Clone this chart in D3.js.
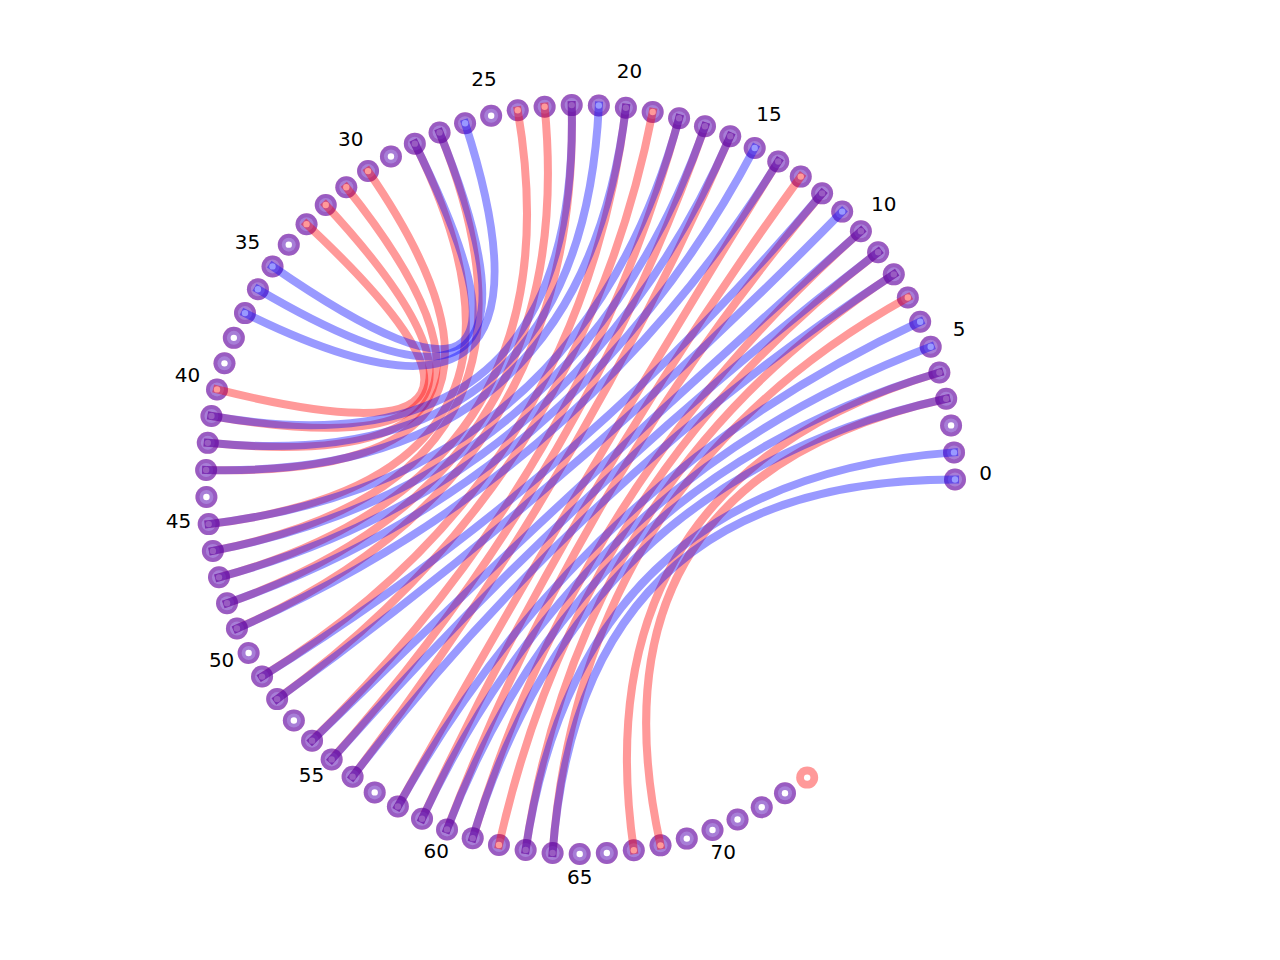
<!DOCTYPE html>
<html>
<head>
<meta charset="utf-8">
<script src="https://cdn.jsdelivr.net/npm/d3@7"></script>
<style>
  html, body { margin: 0; padding: 0; background: #fff; }
  text { font-family: "DejaVu Sans", sans-serif; }
</style>
</head>
<body>
<svg id="chart" width="1280" height="960"></svg>
<script>
// nodes of each structure (red has one more at the end)
var redNodeCount = 75;
var blueNodeCount = 74;

// base pairs, [i, j]
var redPairs = [[3,68],[4,67],[7,64],[8,63],[9,62],[10,61],[12,60],[13,59],[14,58],
    [16,56],[17,55],[18,54],[19,52],[20,51],[22,49],[23,48],[24,47],[27,46],[28,45],
    [30,43],[31,42],[32,41],[33,40]];
var bluePairs = [[0,64],[1,63],[3,61],[4,60],[5,59],[6,58],[8,56],[9,55],[10,54],
    [11,52],[12,51],[14,49],[15,48],[16,47],[17,46],[18,45],[20,43],[21,42],[22,41],
    [26,37],[27,36],[28,35]];

var tickLabels = [0, 5, 10, 15, 20, 25, 30, 35, 40, 45, 50, 55, 60, 65, 70];

var cx = 580.5, cy = 479.5, radius = 374.5, labelRadius = 405;
var step = 4.152 * Math.PI / 180;

var angle = d3.scaleLinear().domain([0, 1]).range([0, step]);

function pos(i, r) {
    // angle counter-clockwise from 3 o'clock
    return d3.pointRadial(Math.PI / 2 - angle(i), r === undefined ? radius : r);
}

function chord(p) {
    var a = pos(p[0]), b = pos(p[1]);
    var path = d3.path();
    path.moveTo(a[0], a[1]);
    path.quadraticCurveTo(0, 0, b[0], b[1]);
    return path.toString();
}

var svg = d3.select('#chart');
var g = svg.append('g').attr('transform', 'translate(' + cx + ',' + cy + ')');

var redNodes = d3.range(redNodeCount);
var blueNodes = d3.range(blueNodeCount);

g.append('g').selectAll('circle')
    .data(redNodes).enter()
    .append('circle')
    .attr('cx', function(d){ return pos(d)[0]; })
    .attr('cy', function(d){ return pos(d)[1]; })
    .attr('r', 11)
    .attr('fill', 'rgb(255,0,0)')
    .attr('fill-opacity', 0.4);

g.append('g').selectAll('circle')
    .data(blueNodes).enter()
    .append('circle')
    .attr('cx', function(d){ return pos(d)[0]; })
    .attr('cy', function(d){ return pos(d)[1]; })
    .attr('r', 11)
    .attr('fill', 'rgb(0,0,255)')
    .attr('fill-opacity', 0.4);

// lighter inner disk
g.append('g').selectAll('circle')
    .data(blueNodes).enter()
    .append('circle')
    .attr('cx', function(d){ return pos(d)[0]; })
    .attr('cy', function(d){ return pos(d)[1]; })
    .attr('r', 7)
    .attr('fill', 'rgb(195,190,255)')
    .attr('fill-opacity', 0.35);

g.append('g').selectAll('circle')
    .data(redNodes).enter()
    .append('circle')
    .attr('cx', function(d){ return pos(d)[0]; })
    .attr('cy', function(d){ return pos(d)[1]; })
    .attr('r', 3.2)
    .attr('fill', '#fff');

g.append('g').selectAll('path')
    .data(redPairs).enter()
    .append('path')
    .attr('d', chord)
    .attr('fill', 'none')
    .attr('stroke', 'rgb(255,0,0)')
    .attr('stroke-opacity', 0.4)
    .attr('stroke-width', 8)
    .attr('stroke-linecap', 'square');

g.append('g').selectAll('path')
    .data(bluePairs).enter()
    .append('path')
    .attr('d', chord)
    .attr('fill', 'none')
    .attr('stroke', 'rgb(0,0,255)')
    .attr('stroke-opacity', 0.4)
    .attr('stroke-width', 8)
    .attr('stroke-linecap', 'square');

g.append('g').selectAll('text')
    .data(tickLabels).enter()
    .append('text')
    .attr('x', function(d){ return pos(d, labelRadius)[0]; })
    .attr('y', function(d){ return pos(d, labelRadius)[1] - 7; })
    .attr('text-anchor', 'middle')
    .attr('dominant-baseline', 'central')
    .attr('font-size', 20)
    .attr('fill', '#000')
    .text(function(d){ return d; });
</script>
</body>
</html>
